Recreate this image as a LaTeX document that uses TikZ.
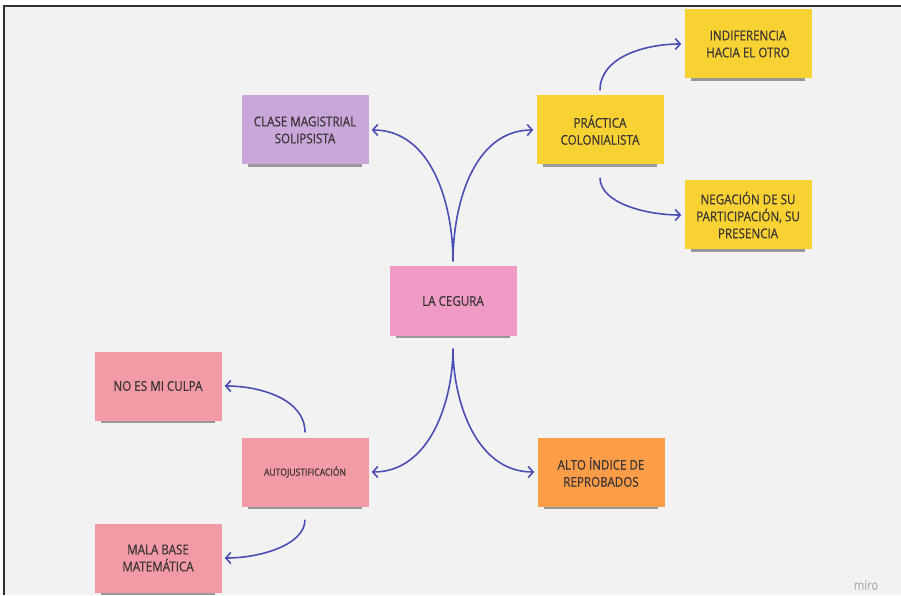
\documentclass[tikz,border=0pt]{standalone}
\usepackage{fontspec}
\setmainfont[FakeStretch=0.86,FakeBold=0.6]{Open Sans}
\usepackage{tikz}
\usetikzlibrary{arrows.meta,positioning,shadows}
\definecolor{mirobg}{HTML}{F2F2F2}
\definecolor{frameline}{HTML}{303030}
\definecolor{inkblue}{HTML}{4B4FB3}
\definecolor{notepink}{HTML}{EF9BC6}
\definecolor{notelila}{HTML}{C9A7DA}
\definecolor{noteyellow}{HTML}{F7D232}
\definecolor{noteorange}{HTML}{FE9D48}
\definecolor{notered}{HTML}{F29BA6}
\definecolor{notetext}{HTML}{3C3535}
\tikzset{
  >={Straight Barb[length=5pt,width=11pt]},
  % notas
  note/.style={rectangle,minimum width=127pt,minimum height=69pt,inner sep=2pt,
               align=center,text=notetext,font=\fontsize{13.5}{17}\selectfont,
               drop shadow={shadow xshift=0pt,shadow yshift=-7pt,shadow scale=0.9,
                            opacity=.5,fill=black!75}},
  smallnote/.style={note,font=\fontsize{10}{13}\selectfont},
  % flechas
  link/.style={->,draw=inkblue,line width=1.6pt,shorten <=5pt,shorten >=3pt},
  linkdown/.style={link,shorten <=13pt},
}
\begin{document}
\begin{tikzpicture}[x=1pt,y=1pt]
\useasboundingbox (0,0) rectangle (901,595);
  \fill[white] (0,0) rectangle (901,595);
  \fill[mirobg] (4,0) rectangle (901,589);
  \draw[frameline,line width=2.4pt] (4,0) -- (4,589) -- (901,589);
  \node[note,fill=notepink] (cegura) at (453,294) {LA CEGURA};
  \node[note,fill=notelila] (clase) at (305,465) {CLASE MAGISTRIAL\\SOLIPSISTA};
  \node[note,fill=noteyellow] (practica) at (600,465) {PRÁCTICA\\COLONIALISTA};
  \node[note,fill=noteyellow] (indif) at (748,551) {INDIFERENCIA\\HACIA EL OTRO};
  \node[note,fill=noteyellow] (negacion) at (748,380) {NEGACIÓN DE SU\\PARTICIPACIÓN, SU\\PRESENCIA};
  \node[note,fill=notered] (culpa) at (158,209) {NO ES MI CULPA};
  \node[smallnote,fill=notered] (autoj) at (305,123) {AUTOJUSTIFICACIÓN};
  \node[note,fill=noteorange] (alto) at (601,123) {ALTO ÍNDICE DE\\REPROBADOS};
  \node[note,fill=notered] (mala) at (158,37) {MALA BASE\\MATEMÁTICA};
  \node[text=black!30,font=\fontsize{13}{15}\selectfont] (logo) at (866,10) {miro};
  \draw[link] (cegura.north) to[out=90,in=0] (clase.east);
  \draw[link] (cegura.north) to[out=90,in=180] (practica.west);
  \draw[linkdown] (cegura.south) to[out=-90,in=0] (autoj.east);
  \draw[linkdown] (cegura.south) to[out=-90,in=180] (alto.west);
  \draw[link] (practica.north) to[out=90,in=180] (indif.west);
  \draw[linkdown] (practica.south) to[out=-90,in=180] (negacion.west);
  \draw[link] (autoj.north) to[out=90,in=0] (culpa.east);
  \draw[linkdown] (autoj.south) to[out=-90,in=0] (mala.east);
\end{tikzpicture}
\end{document}
